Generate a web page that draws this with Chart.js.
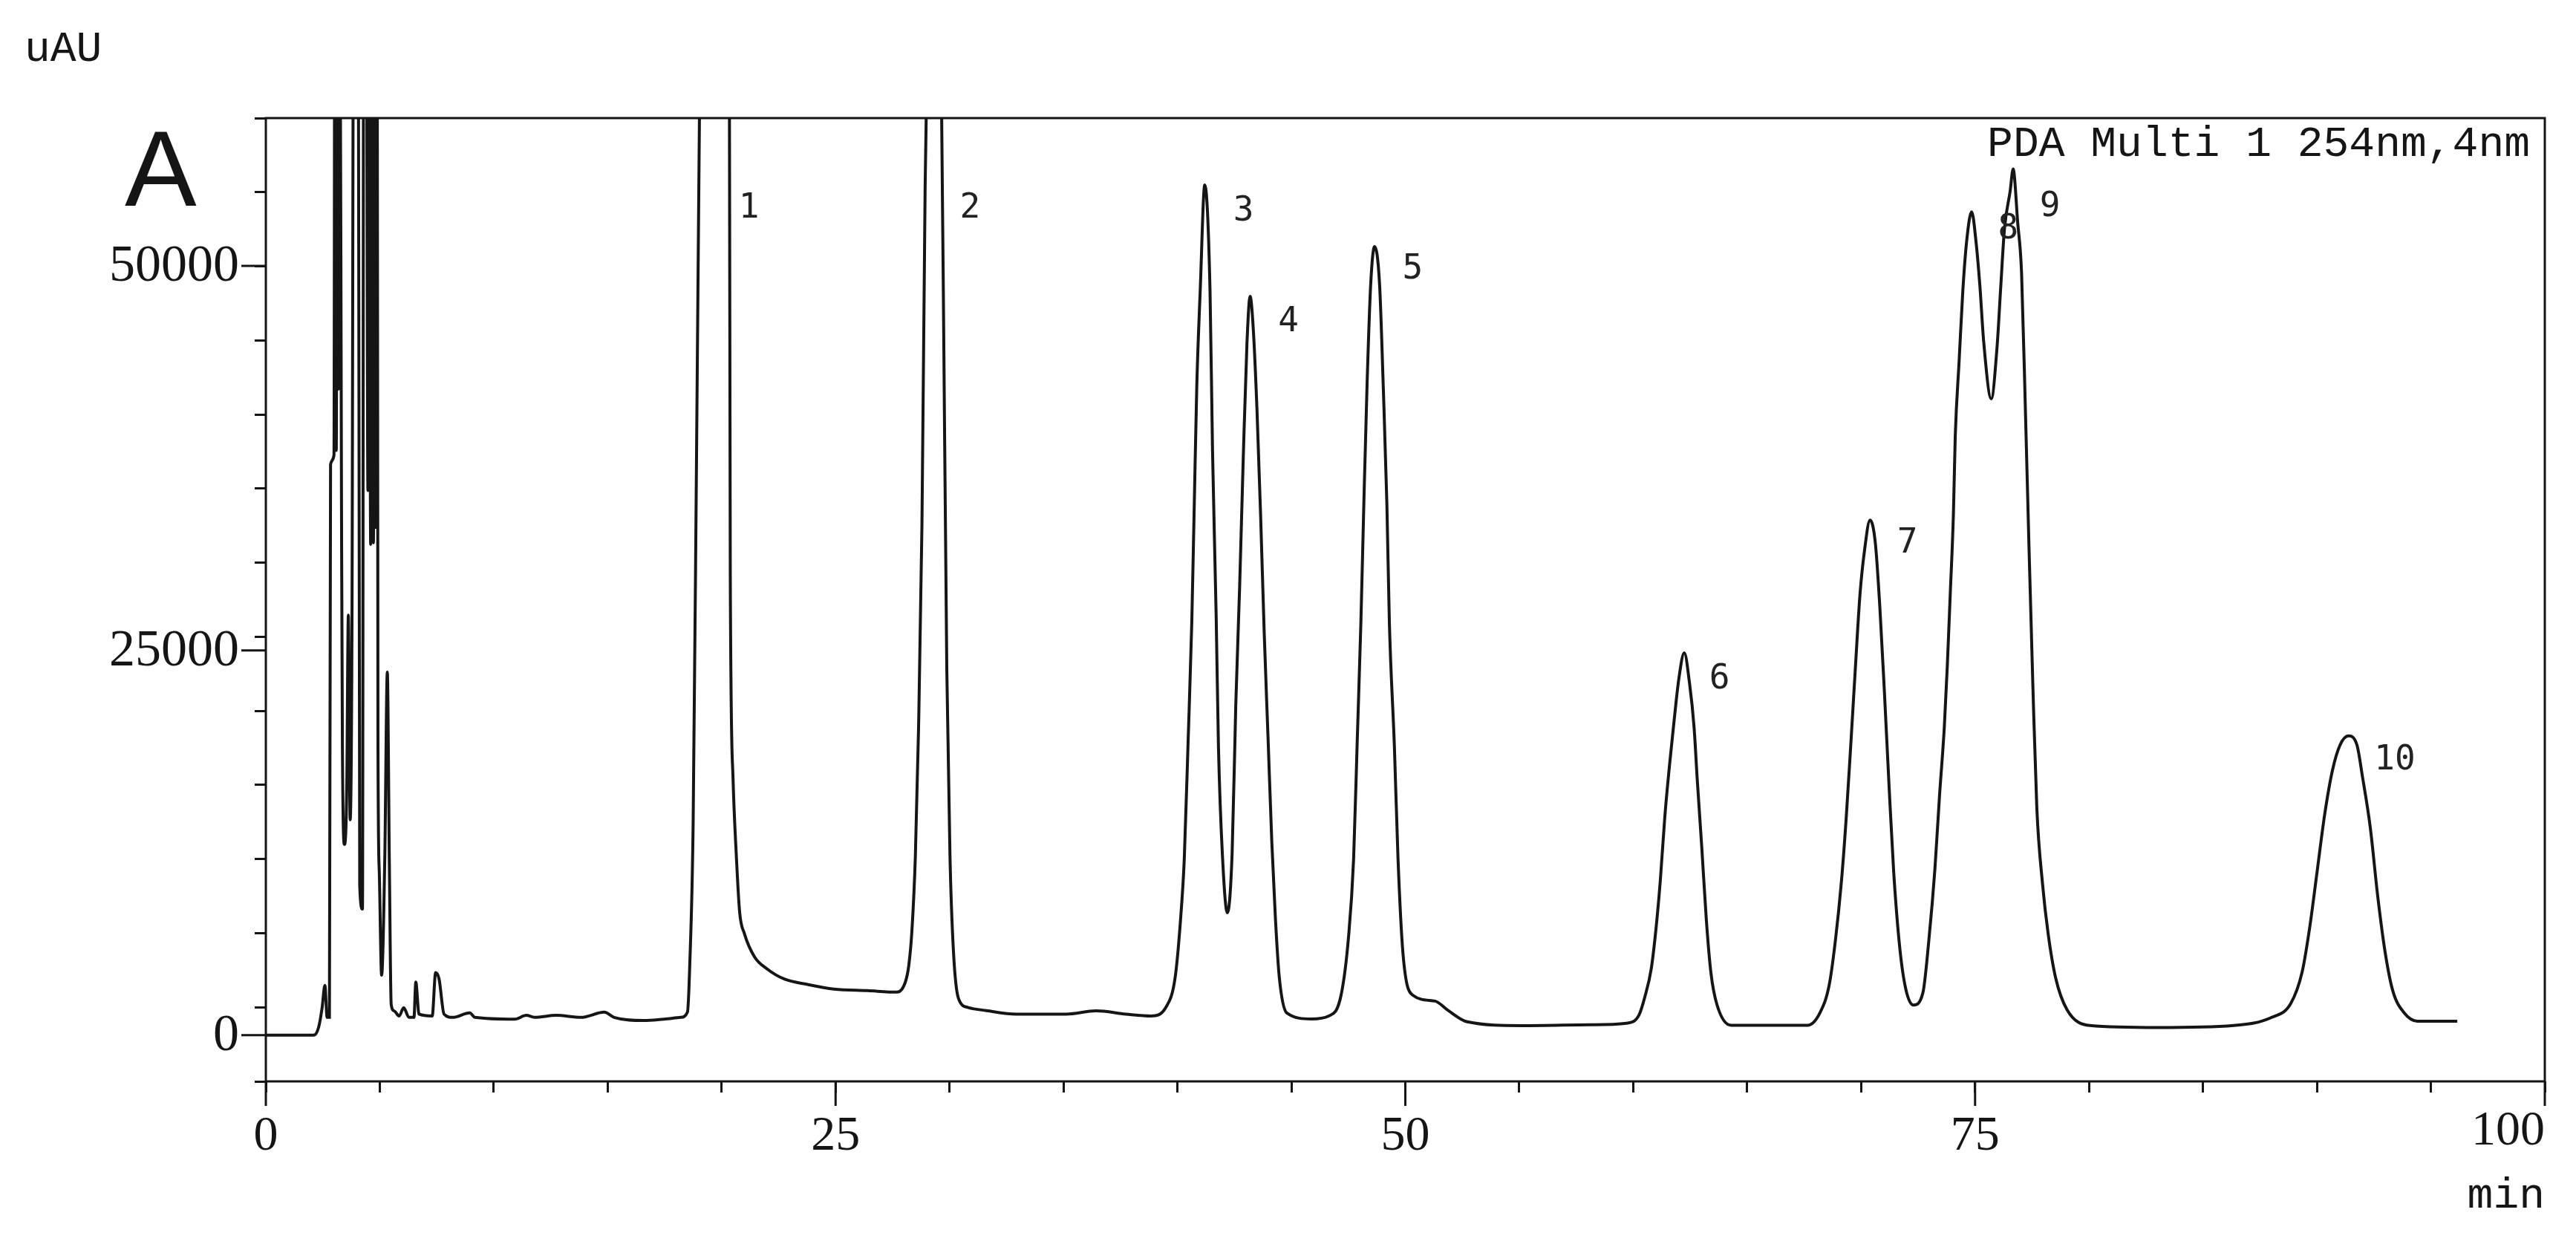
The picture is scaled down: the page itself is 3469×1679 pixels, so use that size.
<html lang="en">

<head>
    <meta charset="UTF-8">
    <title>PDA Multi 1 254nm chromatogram</title>
    <script src="https://cdn.jsdelivr.net/npm/chart.js"></script>

    <style>
      body {
          background-color: #fff;
          margin: 0;
      }

      canvas {
          display: block;
      }
    </style>
</head>

<body>
    <canvas id="chrom" width="3469" height="1679"></canvas>
    <script>
        // retention time (min) and detector signal (uAU)
        const times = [
            0, 2.1, 2.32, 2.47, 2.59, 2.69, 2.79, 2.84, 2.99, 3.03, 3.09, 3.14, 3.19, 3.24,
            3.32, 3.36, 3.45, 3.55, 3.62, 3.7, 3.78, 3.86, 4.05, 4.12, 4.24, 4.3, 4.4, 4.48,
            4.52, 4.6, 4.66, 4.72, 4.78, 4.84, 4.88, 4.92, 4.98, 5.08, 5.22, 5.33, 5.42, 5.5,
            5.63, 5.85, 6.05, 6.28, 6.5, 6.58, 6.72, 7.3, 7.45, 7.6, 7.82, 8.2, 8.95, 9.17,
            10.92, 11.43, 11.79, 12.74, 13.83, 14.85, 15.28, 16.6, 17.47, 18.2, 18.5, 18.6,
            18.75, 18.9, 19.04, 19.7, 20.34, 20.38, 20.5, 20.64, 20.79, 21.0, 21.44, 22.0,
            22.75, 23.77, 24.93, 26.39, 27.7, 28.06, 28.21, 28.35, 28.5, 28.64, 28.79, 28.93,
            29.0, 29.33, 29.64, 29.73, 29.88, 30.02, 30.17, 30.39, 30.82, 31.62, 32.93, 35.12,
            36.43, 37.74, 38.84, 39.5, 39.9, 40.14, 40.3, 40.47, 40.63, 40.74, 40.85, 41.0,
            41.2, 41.43, 41.54, 41.7, 41.8, 41.97, 42.19, 42.4, 42.56, 42.73, 42.89, 43.05,
            43.19, 43.32, 43.49, 43.65, 43.81, 43.98, 44.14, 44.3, 44.47, 44.8, 45.88, 46.64,
            47.18, 47.51, 47.73, 47.89, 48.05, 48.18, 48.32, 48.48, 48.65, 48.87, 49.03, 49.19,
            49.3, 49.52, 49.68, 49.9, 50.33, 51.3, 51.85, 52.72, 55.1, 58.1, 59.71, 60.25,
            60.51, 60.79, 61.0, 61.19, 61.39, 61.6, 61.8, 62.0, 62.24, 62.47, 62.67, 62.81,
            63.01, 63.21, 63.41, 63.68, 64.29, 67.65, 68.19, 68.6, 68.87, 69.14, 69.34, 69.55,
            69.74, 69.95, 70.15, 70.39, 70.62, 70.82, 71.02, 71.23, 71.43, 71.7, 71.96, 72.3,
            72.71, 72.97, 73.24, 73.44, 73.65, 73.78, 73.91, 74.05, 74.13, 74.3, 74.46, 74.63,
            74.85, 75.04, 75.21, 75.38, 75.71, 75.96, 76.13, 76.29, 76.54, 76.67, 76.87, 77.04,
            77.21, 77.37, 77.54, 77.71, 77.96, 78.21, 78.54, 79.04, 80.04, 83.03, 86.35, 88.02,
            88.85, 89.35, 89.68, 90.01, 90.34, 90.68, 91.01, 91.39, 91.76, 92.0, 92.34, 92.67,
            93.0, 93.33, 93.83, 94.41, 96.16
        ];
        const signal = [
            0, 0, 540, 1790, 3240, 1160, 1160, 37100, 37700, 75000, 38000, 75000, 42000, 75000,
            34200, 18800, 12400, 16000, 27300, 14000, 26900, 75000, 75000, 9700, 8200, 75000, 75000, 35400,
            75000, 31900, 75000, 32000, 75000, 33000, 75000, 19000, 10500, 3900, 11550, 23600, 11100, 2000,
            1580, 1250, 1790, 1160, 1160, 3450, 1370, 1250, 4070, 3660, 1370, 1160, 1450, 1160,
            1040, 1290, 1160, 1290, 1160, 1500, 1160, 960, 1040, 1160, 1500, 4500,
            13800, 37900, 62000, 150000, 62000, 29800, 16700, 11800, 8000, 6600, 5100, 4300,
            3650, 3300, 3000, 2900, 2800, 3450, 4500, 6800, 11600, 19900, 33200, 55200,
            62000, 120000, 62000, 48100, 23800, 11600, 5500, 2400, 1800, 1600, 1370, 1370,
            1580, 1370, 1250, 1830, 3760, 7580, 11440, 19150, 26830, 34550, 42230, 48400,
            55260, 48400, 37980, 27220, 18770, 11820, 7960, 11820, 21430, 29150, 37600, 44930,
            48020, 46090, 40680, 33780, 26060, 19160, 12600, 7580, 3760, 1450, 1060, 1250,
            2600, 6420, 11440, 19150, 26830, 34550, 42230, 48790, 51250, 48790, 42230, 34550,
            26830, 18770, 11440, 5260, 2600, 2220, 1640, 870, 620, 680, 780, 1300,
            2490, 4310, 6930, 10090, 14260, 17660, 20530, 23150, 24850, 22880, 20010, 16600,
            12160, 7450, 4050, 1960, 650, 650, 1450, 3270, 6140, 10070, 14000, 18970,
            23670, 28640, 31510, 33480, 32040, 27860, 22360, 16080, 10590, 5620, 3000, 1960,
            2750, 6140, 10850, 15560, 20010, 23940, 28640, 33880, 38900, 43810, 48310, 51590,
            53510, 51590, 48720, 45040, 41360, 44630, 48720, 52410, 54860, 56290, 52820, 49540,
            40540, 31530, 22520, 14750, 9840, 6560, 3700, 1650, 630, 500, 630, 1160,
            2060, 4100, 6970, 10650, 14340, 17200, 18840, 19450, 18840, 16790, 13520, 9010,
            5330, 2880, 1450, 910, 910
        ];

        // peak numbers and where their labels sit (min, uAU)
        const peakLabels = ['1', '2', '3', '4', '5', '6', '7', '8', '9', '10'];
        const peakLabelTimes = [21.2, 30.9, 42.9, 44.87, 50.32, 63.79, 72.03, 76.45, 78.29, 93.42];
        const peakLabelHeights = [53730, 53730, 53530, 46330, 49730, 23130, 31930, 52350, 53830, 17830];

        const xTicksMajor = [0, 25, 50, 75, 100];
        const yTicksMajor = [0, 25000, 50000];

        const ink = '#151515';
        const serif = "'Liberation Serif', serif";
        const mono = "'Liberation Mono', monospace";

        const decorations = {
            id: 'decorations',
            afterDraw(chart) {
                const { ctx, chartArea: a, scales: { x, y } } = chart;
                ctx.save();
                ctx.strokeStyle = ink;
                ctx.lineWidth = 3;
                ctx.strokeRect(a.left, a.top, a.right - a.left, a.bottom - a.top);

                // labelled ticks are drawn longer
                ctx.beginPath();
                xTicksMajor.forEach(v => {
                    const px = x.getPixelForValue(v);
                    ctx.moveTo(px, a.bottom);
                    ctx.lineTo(px, a.bottom + 33);
                });
                yTicksMajor.forEach(v => {
                    const py = y.getPixelForValue(v);
                    ctx.moveTo(a.left, py);
                    ctx.lineTo(a.left - 33, py);
                });
                ctx.stroke();

                ctx.fillStyle = ink;

                // y labels, right aligned against the long ticks
                ctx.font = `70px ${serif}`;
                ctx.textAlign = 'right';
                ctx.textBaseline = 'middle';
                yTicksMajor.forEach(v => {
                    ctx.fillText(String(v), a.left - 36, y.getPixelForValue(v) + 2);
                });

                // last x label sits flush with the axis end
                ctx.font = `66px ${serif}`;
                ctx.textBaseline = 'alphabetic';
                ctx.fillText('100', x.getPixelForValue(100), 1541);

                ctx.font = `58px ${mono}`;
                ctx.textAlign = 'left';
                ctx.fillText('uAU', 33, 82);
                ctx.textAlign = 'right';
                ctx.fillText('PDA Multi 1 254nm,4nm', 3407, 210);
                ctx.fillText('min', 3427, 1626);

                ctx.font = `145px 'Liberation Sans', sans-serif`;
                ctx.textAlign = 'left';
                ctx.fillText('A', 168, 277);

                ctx.font = `46px 'DejaVu Sans Mono', monospace`;
                ctx.fillStyle = '#222';
                ctx.textAlign = 'center';
                ctx.textBaseline = 'middle';
                peakLabels.forEach((lab, i) => {
                    ctx.fillText(lab, x.getPixelForValue(peakLabelTimes[i]), y.getPixelForValue(peakLabelHeights[i]));
                });
                ctx.restore();
            }
        };

        const ctx = document.getElementById('chrom').getContext('2d');
        const chart = new Chart(ctx, {
            type: 'line',
            data: {
                datasets: [{
                    label: 'PDA Multi 1 254nm,4nm',
                    data: times.map((t, i) => ({ x: t, y: signal[i] })),
                    borderColor: ink,
                    borderWidth: 4,
                    pointRadius: 0,
                    fill: false,
                    cubicInterpolationMode: 'monotone',
                    clip: 0
                }]
            },
            options: {
                responsive: false,
                devicePixelRatio: 1,
                animation: false,
                layout: { padding: { left: 0, right: 42, top: 159, bottom: 0 } },
                plugins: {
                    legend: { display: false },
                    tooltip: { enabled: false }
                },
                scales: {
                    x: {
                        type: 'linear',
                        min: 0,
                        max: 100,
                        afterFit: s => { s.height = 223; },
                        border: { display: false },
                        grid: { drawOnChartArea: false, tickLength: 15, tickWidth: 3, tickColor: ink },
                        ticks: {
                            stepSize: 5,
                            autoSkip: false,
                            maxRotation: 0,
                            padding: 20,
                            color: ink,
                            font: { family: serif, size: 66 },
                            callback: v => (v % 25 === 0 && v !== 100 ? String(v) : '')
                        }
                    },
                    y: {
                        min: -3000,
                        max: 59600,
                        afterFit: s => { s.width = 358; },
                        border: { display: false },
                        grid: { drawOnChartArea: false, tickLength: 15, tickWidth: 3, tickColor: ink },
                        ticks: {
                            stepSize: 5000,
                            includeBounds: false,
                            autoSkip: false,
                            callback: () => ''
                        }
                    }
                }
            },
            plugins: [decorations]
        });
    </script>
</body>

</html>
